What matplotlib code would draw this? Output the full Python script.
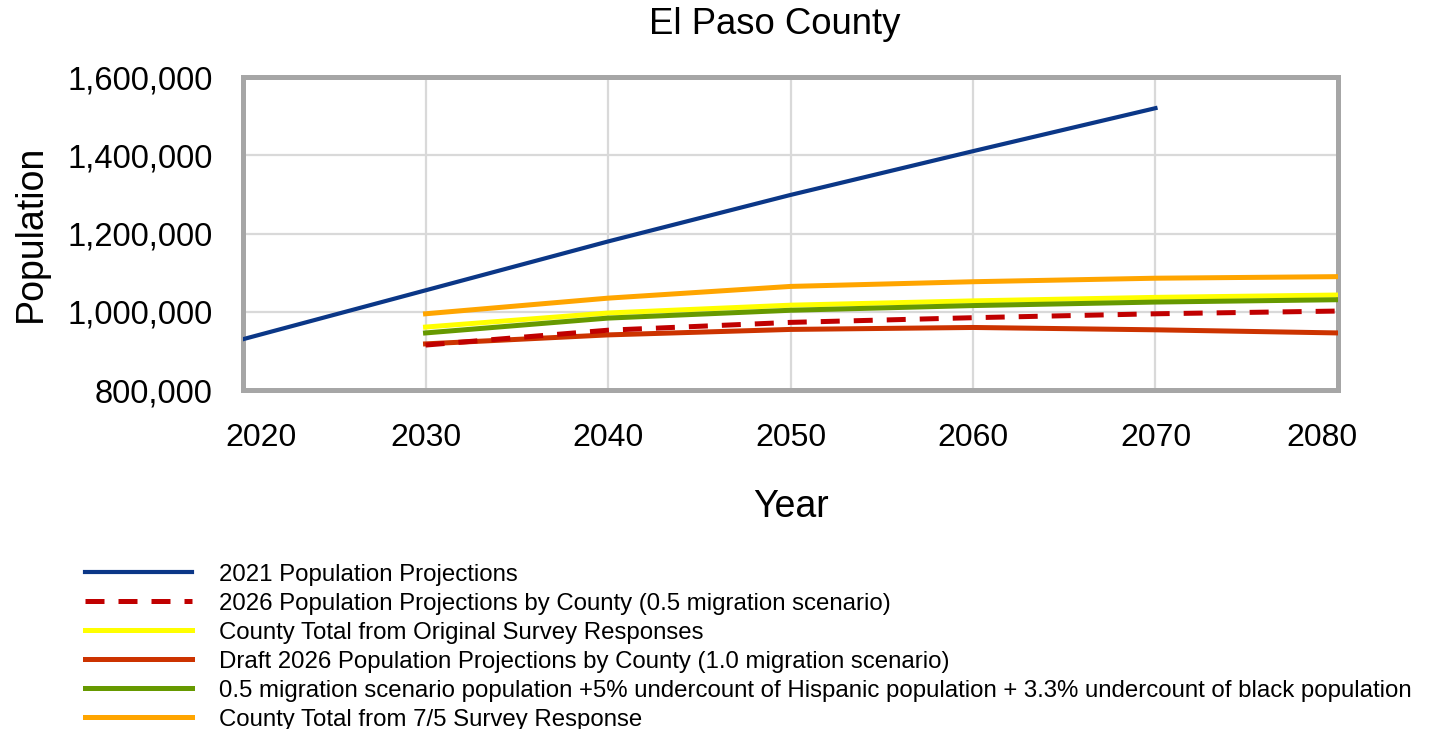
import matplotlib
matplotlib.use("Agg")
import matplotlib.pyplot as plt
import matplotlib.transforms as mtransforms
from matplotlib.ticker import FuncFormatter

plt.rcParams['font.family'] = ['Liberation Sans', 'DejaVu Sans']

# data
years_2021 = [2020, 2030, 2040, 2050, 2060, 2070]
proj_2021 = [930000, 1055000, 1180000, 1299000, 1411000, 1521000]

years = [2030, 2040, 2050, 2060, 2070, 2080]
proj_2026_05 = [915000, 953000, 973000, 985000, 995000, 1002000]
survey_orig = [961000, 997000, 1017000, 1028000, 1037000, 1043000]
draft_2026_10 = [918000, 941000, 955000, 960000, 954000, 946000]
undercount = [946000, 984000, 1004000, 1016000, 1025000, 1031000]
survey_75 = [995000, 1035000, 1065000, 1077000, 1086000, 1090000]

labels = [
    "2021 Population Projections",
    "2026 Population Projections by County (0.5 migration scenario)",
    "County Total from Original Survey Responses",
    "Draft 2026 Population Projections by County (1.0 migration scenario)",
    "0.5 migration scenario population +5% undercount of Hispanic population + 3.3% undercount of black population",
    "County Total from 7/5 Survey Response",
]

fig = plt.figure(figsize=(14.39, 7.29), dpi=100)
ax = fig.add_axes([0.1689, 0.465, 0.9298 - 0.1689, 0.894 - 0.465])

l1, = ax.plot(years_2021, proj_2021, color='#0b3787', lw=3.0, label=labels[0], zorder=3)
l6, = ax.plot(years, survey_75, color='#ffa500', lw=3.6, label=labels[5], zorder=3)
l3, = ax.plot(years, survey_orig, color='#ffff00', lw=3.6, label=labels[2], zorder=3)
l5, = ax.plot(years, undercount, color='#669900', lw=3.6, label=labels[4], zorder=4)
l4, = ax.plot(years, draft_2026_10, color='#cc3300', lw=3.6, label=labels[3], zorder=3)
l2, = ax.plot(years, proj_2026_05, color='#c00000', lw=3.6, ls=(0, (3.8, 2.8)),
              label=labels[1], zorder=4)

ax.set_xlim(2020, 2080)
ax.set_ylim(800000, 1600000)
ax.set_xticks(range(2020, 2081, 10))
ax.set_yticks(range(800000, 1600001, 200000))
ax.yaxis.set_major_formatter(FuncFormatter(lambda v, p: f"{int(v):,}"))
ax.tick_params(axis='x', length=0, labelsize=23, pad=24)
ax.tick_params(axis='y', length=0, labelsize=23.6, pad=22)

# shift first and last year labels inward like the original
xlabels = ax.get_xticklabels()
xlabels[0].set_transform(xlabels[0].get_transform() +
                         mtransforms.ScaledTranslation(18 / 100, 0, fig.dpi_scale_trans))
xlabels[-1].set_transform(xlabels[-1].get_transform() +
                          mtransforms.ScaledTranslation(-16 / 100, 0, fig.dpi_scale_trans))

ax.grid(True, color='#d9d9d9', lw=1.6)
ax.set_axisbelow(True)
for s in ax.spines.values():
    s.set_color('#a6a6a6')
    s.set_linewidth(3.6)

fig.text(775 / 1439, 1 - 25 / 729, "El Paso County", fontsize=26.3,
         ha='center', va='center')
ax.set_xlabel("Year", fontsize=27, labelpad=26)
ax.set_ylabel("Population", fontsize=27, labelpad=13)

fig.legend(handles=[l1, l2, l3, l4, l5, l6], labels=labels,
           loc='upper left', bbox_to_anchor=(0.059, 0.2265), frameon=False,
           fontsize=17.3, handlelength=4.45, handletextpad=1.15,
           labelspacing=0.29, borderaxespad=0, borderpad=0)

fig.savefig("out.png", dpi=100)
